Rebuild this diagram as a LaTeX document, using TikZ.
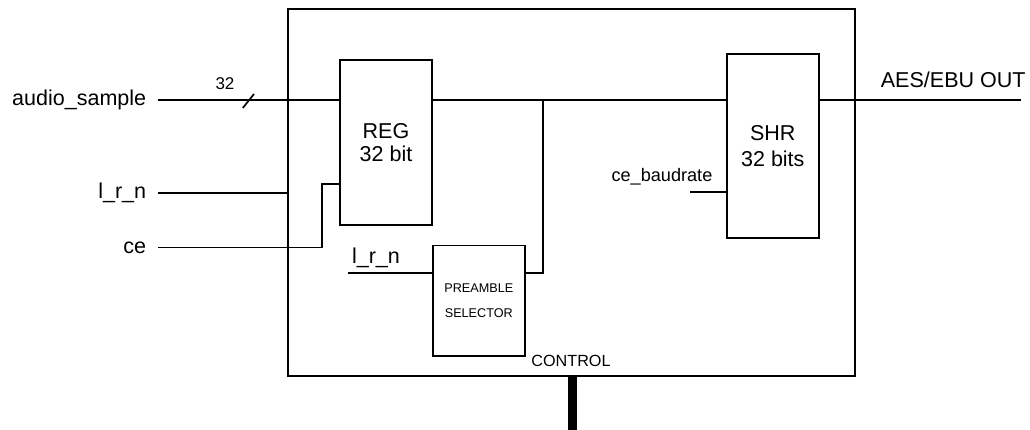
\documentclass[tikz,border=0pt]{standalone}
\usepackage{fontspec}
\setmainfont{Liberation Sans}
\usepackage{tikz}
\usetikzlibrary{positioning,calc}

\begin{document}
\begin{tikzpicture}[line width=1.2pt,
  blk/.style={draw, minimum width=2.3cm, align=center, inner sep=0pt},
  sig/.style={font=\fontsize{15.3}{18}\selectfont, inner sep=0pt},
  small/.style={font=\fontsize{12.9}{15}\selectfont, inner sep=0pt}]
\useasboundingbox (0,0) rectangle (25.75,10.75);
% Outer box
\node[draw, minimum width=14.175cm, minimum height=9.175cm, inner sep=0pt]
  (top) at (14.2875, 5.9375) {};
% Blocks
\node[blk, minimum height=4.125cm, font=\fontsize{15.3}{16.5}\selectfont]
  (reg) at (9.65, 7.1875) {REG\\32 bit};
\node[blk, minimum height=4.6cm, font=\fontsize{15.3}{18}\selectfont]
  (shr) at (19.32, 7.1) {SHR\\32 bits};
\node[blk, minimum height=2.76cm, font=\fontsize{9}{17.8}\selectfont]
  (pre) at (11.97, 3.23) {PREAMBLE\\SELECTOR};
% Input labels
\node[sig, anchor=east] (audio) at (3.675, 8.25) {audio\_sample};
\node[sig, anchor=east] (lrn)   at (3.675, 5.93) {l\_r\_n};
\node[sig, anchor=east] (ce)    at (3.675, 4.56) {ce};
\node[small, font=\fontsize{12.1}{14}\selectfont] (bw) at (5.625, 8.65) {32};
\node[sig] (lrnlbl) at (9.4, 4.3) {l\_r\_n};
\node[small, anchor=east] (baudlbl) at (17.83, 6.33) {ce\_baudrate};
\node[sig] (aes) at (23.83, 8.75) {AES/EBU OUT};
\node[small, font=\fontsize{11.5}{14}\selectfont] (ctl) at (14.275, 1.725) {CONTROL};
% Wire ends
\coordinate (bus)    at (6.21, 8.225);
\coordinate (cejog)  at (8.05, 6.15);
\coordinate (jn)     at (13.575, 8.25);
\coordinate (lrnin)  at (8.7, 3.93);
\coordinate (baud)   at (17.25, 5.95);
\coordinate (aesend) at (25.525, 8.25);
\coordinate (ctlend) at (14.3, 0);
% Wires
\draw ([xshift=0.275cm]audio.east) -- (reg.west |- audio.east);
\draw ([shift={(-0.14,-0.175)}]bus) -- ([shift={(0.14,0.175)}]bus);
\draw ([xshift=0.275cm]lrn.east) -- (lrn.east -| top.west);
\draw ([xshift=0.275cm]ce.east) -| (cejog) -- (cejog -| reg.west);
\draw (reg.east |- audio.east) -- (shr.west |- audio.east);
\draw (lrnin) -- (lrnin -| pre.west);
\draw (pre.east |- lrnin) -| (jn);
\draw (baud) -- (baud -| shr.west);
\draw (shr.east |- aesend) -- (aesend);
\draw[line width=6.4pt] (ctlend |- top.south) -- (ctlend);
\end{tikzpicture}
\end{document}
